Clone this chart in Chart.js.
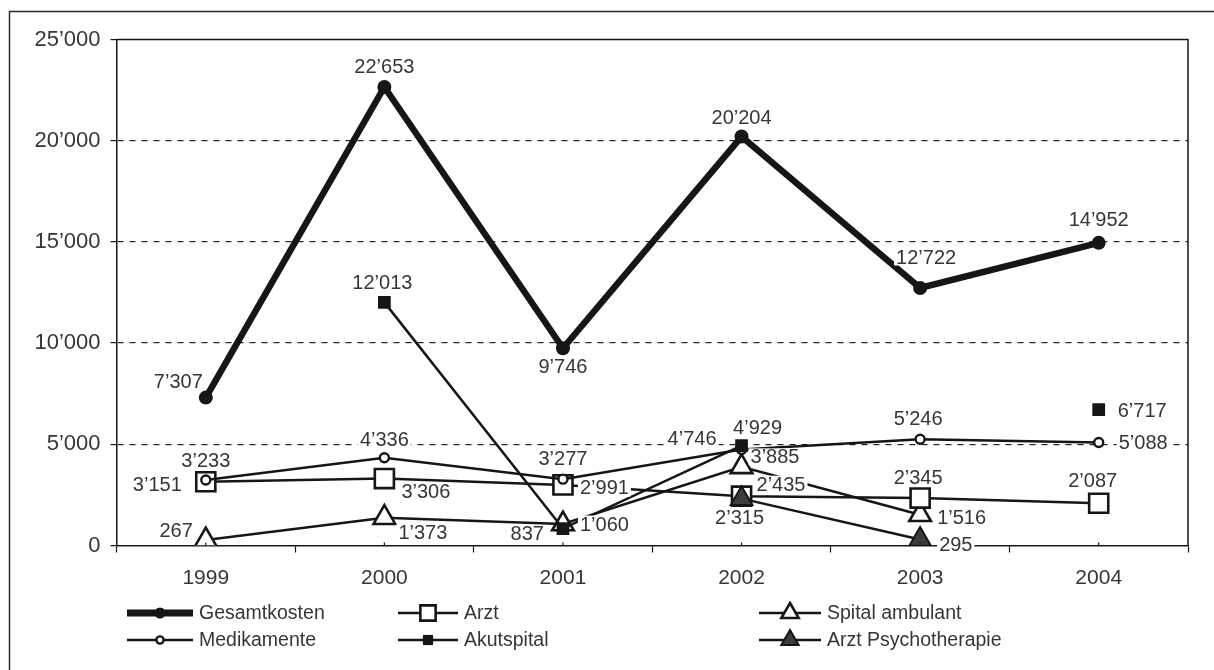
<!DOCTYPE html>
<html>
<head>
<meta charset="utf-8">
<title>Kostenentwicklung 1999–2004</title>
<script src="https://cdn.jsdelivr.net/npm/chart.js@4/dist/chart.umd.min.js"></script>
<style>
  html, body { margin: 0; padding: 0; background: #fff; }
  #wrap { width: 1214px; height: 670px; }
</style>
</head>
<body>
<div id="wrap"><canvas id="chart" width="1214" height="670"></canvas></div>
<script>
// ---- data ----
const years = ['1999', '2000', '2001', '2002', '2003', '2004'];
const gesamtkosten       = [7307, 22653, 9746, 20204, 12722, 14952];
const arzt               = [3151, 3306, 2991, 2435, 2345, 2087];
const spitalAmbulant     = [267, 1373, 1060, 3885, 1516, null];
const medikamente        = [3233, 4336, 3277, 4746, 5246, 5088];
const akutspital         = [null, 12013, 837, 4929, null, 6717];
const arztPsychotherapie = [null, null, null, 2315, 295, null];
const yTickValues        = [0, 5000, 10000, 15000, 20000, 25000];

// ---- styling ----
const FONT = "'Liberation Sans', Arial, sans-serif";
const INK = '#161616';
const TEXT = '#363636';

// thousands separator as used in Swiss German: 12’013
const fmt = v => String(v).replace(/\B(?=(\d{3})+(?!\d))/g, '\u2019');

// where each value label sits relative to its point: [align, dx, dy]
const placeGesamt  = [['right', -3, -16], ['center', 0, -21], ['center', 0, 18], ['center', 0, -19], ['center', 6, -31], ['center', 0, -23]];
const placeArzt    = [['right', -24, 3], ['left', 17, 13], ['left', 17, 3], ['left', 15, -12], ['center', -2, -21], ['center', -6, -23]];
const placeSpital  = [['right', -13, -10], ['left', 14, 15], ['left', 17, 0], ['left', 9, -10], ['left', 17, 3], null];
const placeMedi    = [['center', 0, -20], ['center', 0, -18], ['center', 0, -21], ['right', -25, -11], ['center', -2, -21], ['left', 20, 0]];
const placeAkut    = [null, ['center', -2, -20], ['right', -19, 5], ['center', 16, -18], null, ['left', 19, 1]];
const placePsycho  = [null, null, null, ['center', -2, 19], ['left', 19, 5], null];

// legend grid: column x, sample line length per column, row y
const legendCols = [127, 398, 759];
const legendLineLen = [66, 60, 62];
const legendRows = [613, 640];

const series = [
  { label: 'Gesamtkosten', data: gesamtkosten, borderWidth: 6.5, pointStyle: 'circle', pointRadius: 7,
    pointBackgroundColor: INK, pointBorderColor: INK, pointBorderWidth: 0, order: 5 },
  { label: 'Arzt', data: arzt, borderWidth: 2.5, pointStyle: 'rect', pointRadius: 13.5,
    pointBackgroundColor: '#ffffff', pointBorderColor: INK, pointBorderWidth: 2.6, order: 3 },
  { label: 'Spital ambulant', data: spitalAmbulant, borderWidth: 2.5, pointStyle: 'triangle', pointRadius: 12.5,
    pointBackgroundColor: '#ffffff', pointBorderColor: INK, pointBorderWidth: 2.6, order: 4 },
  { label: 'Medikamente', data: medikamente, borderWidth: 2.5, pointStyle: 'circle', pointRadius: 4.5,
    pointBackgroundColor: '#ffffff', pointBorderColor: INK, pointBorderWidth: 2.4, order: 2 },
  { label: 'Akutspital', data: akutspital, borderWidth: 2.5, pointStyle: 'rect', pointRadius: 9,
    pointBackgroundColor: INK, pointBorderColor: INK, pointBorderWidth: 0, order: 0 },
  { label: 'Arzt Psychotherapie', data: arztPsychotherapie, borderWidth: 2.5, pointStyle: 'triangle', pointRadius: 12.5,
    pointBackgroundColor: '#3c3c3c', pointBorderColor: INK, pointBorderWidth: 2, order: 1 }
];
const labelPlacement = [placeGesamt, placeArzt, placeSpital, placeMedi, placeAkut, placePsycho];
const legendSlots = [[0, 0], [1, 0], [2, 0], [0, 1], [1, 1], [2, 1]];

// frames around the figure and the plot area, plus small ticks at category centres
const framePlugin = {
  id: 'frames',
  afterDraw(chart) {
    const { ctx, chartArea: a } = chart;
    ctx.save();
    ctx.strokeStyle = '#2a2a2a';
    ctx.lineWidth = 1.5;
    ctx.beginPath();
    ctx.moveTo(9.5, 670); ctx.lineTo(9.5, 11.5); ctx.lineTo(1214, 11.5);
    ctx.stroke();
    ctx.strokeStyle = INK;
    ctx.beginPath();
    ctx.moveTo(a.left, a.top); ctx.lineTo(a.right, a.top); ctx.lineTo(a.right, a.bottom);
    ctx.stroke();
    const xs = chart.scales.x;
    ctx.lineWidth = 1.2;
    years.forEach((_, i) => {
      const px = xs.getPixelForTick(i);
      ctx.beginPath(); ctx.moveTo(px, a.bottom); ctx.lineTo(px, a.bottom - 3); ctx.stroke();
    });
    ctx.restore();
  }
};

// value labels on a white ground
const valueLabelPlugin = {
  id: 'valueLabels',
  afterDatasetsDraw(chart) {
    const ctx = chart.ctx;
    ctx.save();
    ctx.font = `20px ${FONT}`;
    ctx.textBaseline = 'middle';
    ctx.textAlign = 'left';
    chart.data.datasets.forEach((ds, i) => {
      const meta = chart.getDatasetMeta(i);
      ds.data.forEach((v, j) => {
        const place = labelPlacement[i][j];
        if (v == null || !place) return;
        const pt = meta.data[j];
        const [align, dx, dy] = place;
        const text = fmt(v);
        const w = ctx.measureText(text).width;
        const x = pt.x + dx;
        const left = align === 'center' ? x - w / 2 : align === 'right' ? x - w : x;
        const y = pt.y + dy;
        ctx.fillStyle = '#ffffff';
        ctx.fillRect(left - 2, y - 8.5, w + 4, 17);
        ctx.fillStyle = TEXT;
        ctx.fillText(text, left, y + 1);
      });
    });
    ctx.restore();
  }
};

// three-column legend below the axis
const legendPlugin = {
  id: 'gridLegend',
  afterDraw(chart) {
    const ctx = chart.ctx;
    ctx.save();
    chart.data.datasets.forEach((ds, i) => {
      const [c, r] = legendSlots[i];
      const x0 = legendCols[c];
      const len = legendLineLen[c];
      const y = legendRows[r];
      ctx.strokeStyle = INK;
      ctx.lineWidth = ds.borderWidth > 5 ? 7 : ds.borderWidth;
      ctx.beginPath(); ctx.moveTo(x0, y); ctx.lineTo(x0 + len, y); ctx.stroke();
      ctx.fillStyle = ds.pointBackgroundColor;
      ctx.strokeStyle = ds.pointBorderColor;
      ctx.lineWidth = ds.pointBorderWidth;
      Chart.helpers.drawPoint(ctx, {
        pointStyle: ds.pointStyle, radius: ds.pointRadius * 0.8,
        borderWidth: ds.pointBorderWidth, rotation: 0
      }, x0 + len / 2, y);
      ctx.fillStyle = TEXT;
      ctx.font = `19.5px ${FONT}`;
      ctx.textBaseline = 'middle';
      ctx.textAlign = 'left';
      ctx.fillText(ds.label, x0 + len + 6, y + 1);
    });
    ctx.restore();
  }
};

new Chart(document.getElementById('chart'), {
  type: 'line',
  data: {
    labels: years,
    datasets: series.map(s => ({
      ...s,
      borderColor: INK,
      backgroundColor: INK,
      fill: false,
      tension: 0,
      spanGaps: false,
      pointHoverRadius: s.pointRadius
    }))
  },
  options: {
    responsive: false,
    animation: false,
    devicePixelRatio: 1,
    layout: { padding: { top: 39.5, right: 26, left: 0, bottom: 0 } },
    plugins: { legend: { display: false }, tooltip: { enabled: false } },
    scales: {
      x: {
        type: 'category',
        offset: true,
        grid: { offset: true, drawOnChartArea: false, tickLength: 7, tickColor: INK, tickWidth: 1.2 },
        border: { display: true, color: INK, width: 1.5 },
        ticks: { color: TEXT, font: { family: FONT, size: 21 }, padding: 13, maxRotation: 0 },
        afterFit: s => { s.height = 124.5; }
      },
      y: {
        min: 0,
        max: 25000,
        afterBuildTicks: s => { s.ticks = yTickValues.map(v => ({ value: v })); },
        grid: {
          color: c => (c.tick && (c.tick.value === 0 || c.tick.value === 25000)) ? 'rgba(0,0,0,0)' : '#222222',
          lineWidth: 1.2,
          tickLength: 6,
          tickColor: INK,
          tickWidth: 1.2
        },
        border: { display: true, color: INK, width: 1.5, dash: [6, 6] },
        ticks: { color: TEXT, font: { family: FONT, size: 22 }, padding: 10, callback: v => fmt(v) },
        afterFit: s => { s.width = 116.5; }
      }
    }
  },
  plugins: [framePlugin, valueLabelPlugin, legendPlugin]
});
</script>
</body>
</html>
